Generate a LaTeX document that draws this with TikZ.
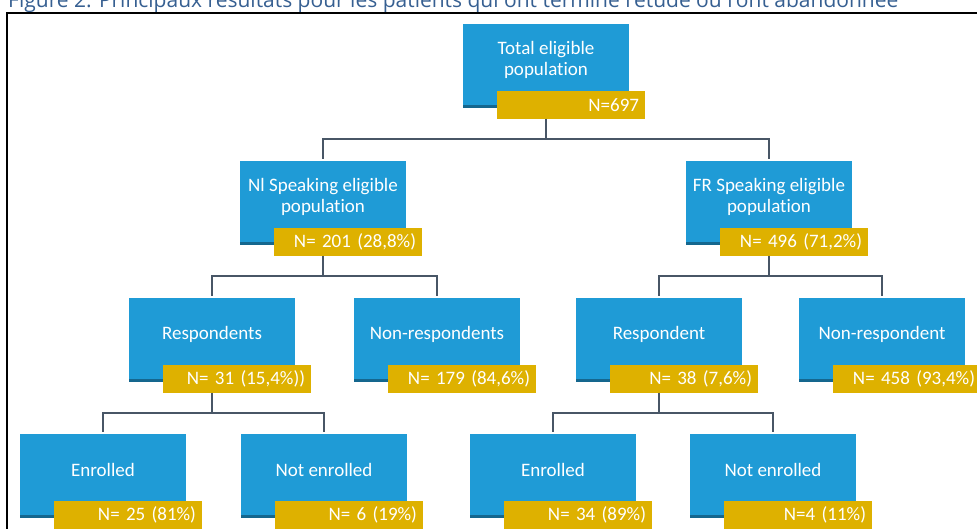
\documentclass[tikz,border=0pt]{standalone}
\usepackage{fontspec}
\setmainfont[RawFeature=-liga]{Carlito}
\newfontfamily\capfont{Open Sans}
\usetikzlibrary{shadows,calc}
\definecolor{boxblue}{RGB}{31,155,214}
\definecolor{boxgold}{RGB}{222,177,0}
\definecolor{linkgrey}{RGB}{72,86,102}
\definecolor{capblue}{RGB}{54,95,145}
\tikzset{
  popbox/.style={draw=white, line width=1.5pt, fill=boxblue, minimum width=168pt, minimum height=86pt, inner sep=0pt,
    drop shadow={shadow xshift=1pt, shadow yshift=-1pt, fill=black!30, opacity=0.5},
    path picture={\shade[top color=boxblue, bottom color=boxblue!65!black] ([yshift=3.5pt]path picture bounding box.south west) rectangle (path picture bounding box.south east);}},
  poptext/.style={text=white, font=\fontsize{19}{21}\selectfont, align=center},
  countbox/.style={fill=boxgold, text=white, font=\fontsize{19}{21}\selectfont, minimum height=28pt, inner xsep=6pt, inner ysep=0pt, text width=136pt, align=right},
  link/.style={draw=linkgrey, line width=1.2pt}
}

\begin{document}
\begin{tikzpicture}[x=1pt,y=-1pt]
\useasboundingbox (0,0) rectangle (977,529);
\node [anchor=base west, text=capblue, font=\capfont\fontsize{21}{23}\selectfont, inner sep=0pt] (cap) at (8,8) {Figure 2: Principaux résultats pour les patients qui ont terminé l'étude ou l'ont abandonnée};
\draw [line width=1.5pt] (7,560) -- (7,13) -- (1000,13);

\node [popbox] (tot) at (546,66) {};
\node [poptext] (totT) at ([yshift=6pt]tot.center) {Total eligible\\population};
\node [countbox] (totN) at ([xshift=25pt,yshift=5pt]tot.south) {N=697};

\node [popbox] (nl) at (323,203) {};
\node [poptext] (nlT) at ([yshift=6pt]nl.center) {Nl Speaking eligible\\population};
\node [countbox] (nlN) at ([xshift=25pt,yshift=5pt]nl.south) {N= 201 (28,8\%)};
\node [popbox] (fr) at (769,203) {};
\node [poptext] (frT) at ([yshift=6pt]fr.center) {FR Speaking eligible\\population};
\node [countbox] (frN) at ([xshift=25pt,yshift=5pt]fr.south) {N= 496 (71,2\%)};

\node [popbox] (nlresp) at (212,340) {};
\node [poptext] (nlrespT) at ([yshift=6pt]nlresp.center) {Respondents};
\node [countbox] (nlrespN) at ([xshift=25pt,yshift=5pt]nlresp.south) {N= 31 (15,4\%))};
\node [popbox] (nlnon) at (437,340) {};
\node [poptext] (nlnonT) at ([yshift=6pt]nlnon.center) {Non-respondents};
\node [countbox] (nlnonN) at ([xshift=25pt,yshift=5pt]nlnon.south) {N= 179 (84,6\%)};
\node [popbox] (frresp) at (659,340) {};
\node [poptext] (frrespT) at ([yshift=6pt]frresp.center) {Respondent};
\node [countbox] (frrespN) at ([xshift=25pt,yshift=5pt]frresp.south) {N= 38 (7,6\%)};
\node [popbox] (frnon) at (882,340) {};
\node [poptext] (frnonT) at ([yshift=6pt]frnon.center) {Non-respondent};
\node [countbox] (frnonN) at ([xshift=25pt,yshift=5pt]frnon.south) {N= 458 (93,4\%)};

\node [popbox] (nlenr) at (103,476) {};
\node [poptext] (nlenrT) at ([yshift=6pt]nlenr.center) {Enrolled};
\node [countbox] (nlenrN) at ([xshift=25pt,yshift=5pt]nlenr.south) {N= 25 (81\%)};
\node [popbox] (nlnot) at (324,476) {};
\node [poptext] (nlnotT) at ([yshift=6pt]nlnot.center) {Not enrolled};
\node [countbox] (nlnotN) at ([xshift=25pt,yshift=5pt]nlnot.south) {N= 6 (19\%)};
\node [popbox] (frenr) at (553,476) {};
\node [poptext] (frenrT) at ([yshift=6pt]frenr.center) {Enrolled};
\node [countbox] (frenrN) at ([xshift=25pt,yshift=5pt]frenr.south) {N= 34 (89\%)};
\node [popbox] (frnot) at (773,476) {};
\node [poptext] (frnotT) at ([yshift=6pt]frnot.center) {Not enrolled};
\node [countbox] (frnotN) at ([xshift=25pt,yshift=5pt]frnot.south) {N=4 (11\%)};

\draw [link] (tot.south |- totN.south) -- ++(0,20) -| (nl.north);
\draw [link] (tot.south |- totN.south) -- ++(0,20) -| (fr.north);
\draw [link] (nl.south |- nlN.south) -- ++(0,20) -| (nlresp.north);
\draw [link] (nl.south |- nlN.south) -- ++(0,20) -| (nlnon.north);
\draw [link] (fr.south |- frN.south) -- ++(0,20) -| (frresp.north);
\draw [link] (fr.south |- frN.south) -- ++(0,20) -| (frnon.north);
\draw [link] (nlresp.south |- nlrespN.south) -- ++(0,20) -| (nlenr.north);
\draw [link] (nlresp.south |- nlrespN.south) -- ++(0,20) -| (nlnot.north);
\draw [link] (frresp.south |- frrespN.south) -- ++(0,20) -| (frenr.north);
\draw [link] (frresp.south |- frrespN.south) -- ++(0,20) -| (frnot.north);
\end{tikzpicture}
\end{document}
